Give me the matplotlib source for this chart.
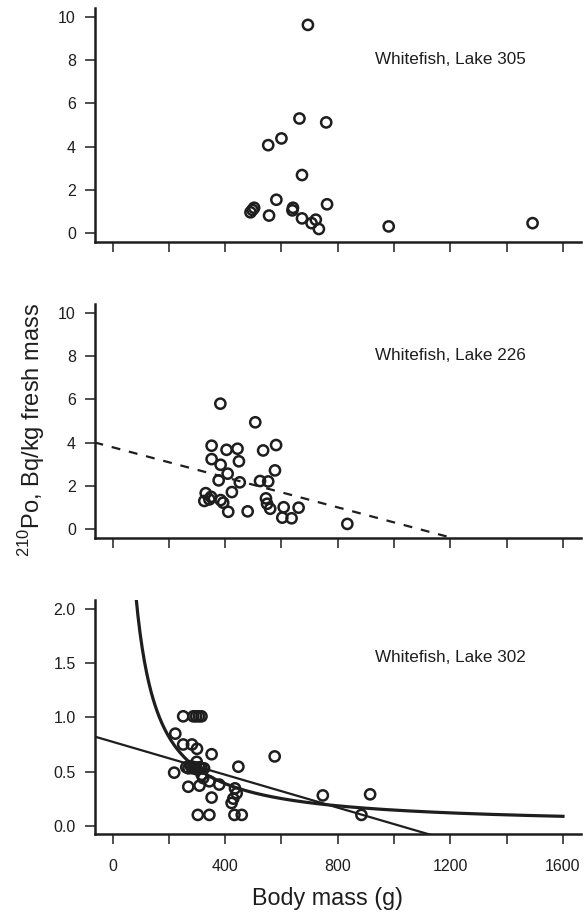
import numpy as np
import matplotlib
matplotlib.use('Agg')
import matplotlib.pyplot as plt

plt.rcParams['font.family'] = ['Liberation Sans', 'DejaVu Sans']
plt.rcParams['mathtext.fontset'] = 'custom'
plt.rcParams['mathtext.rm'] = 'Liberation Sans'

INK = '#1e1e1e'

# Lake 305 (top panel)
mass_305 = [694, 664, 759, 553, 600, 673, 582, 762, 490, 497, 503, 556, 641, 639,
            673, 707, 722, 733, 981, 1492]
po_305 = [9.62, 5.30, 5.12, 4.07, 4.38, 2.69, 1.55, 1.34, 0.97, 1.08, 1.18, 0.82, 1.18, 1.06,
          0.69, 0.47, 0.63, 0.20, 0.32, 0.47]

# Lake 226 (middle panel)
mass_226 = [383, 507, 352, 405, 444, 535, 581, 352, 384, 449, 577, 409, 377, 452, 524, 553,
            424, 331, 326, 344, 350, 384, 393, 545, 549, 560, 411, 480, 608, 661, 603, 636, 834]
po_226 = [5.80, 4.94, 3.86, 3.67, 3.72, 3.64, 3.89, 3.24, 2.98, 3.14, 2.72, 2.57, 2.26, 2.17,
          2.23, 2.21, 1.72, 1.67, 1.31, 1.38, 1.50, 1.35, 1.23, 1.43, 1.18, 0.95, 0.81, 0.83,
          1.02, 1.00, 0.54, 0.51, 0.25]

# Lake 302 (bottom panel)
mass_302 = [251, 287, 297, 307, 316, 223, 251, 282, 300, 352, 576, 447, 219, 299,
            262, 270, 278, 285, 292, 300, 308, 316, 325,
            317, 322, 344, 379, 269, 309, 352, 435, 441, 429, 423,
            303, 344, 433, 459, 747, 915, 884]
po_302 = [1.01, 1.01, 1.01, 1.01, 1.01, 0.85, 0.75, 0.75, 0.71, 0.66, 0.64, 0.545, 0.49, 0.59,
          0.54, 0.53, 0.55, 0.53, 0.54, 0.52, 0.54, 0.53, 0.53,
          0.47, 0.44, 0.41, 0.38, 0.36, 0.37, 0.26, 0.345, 0.30, 0.25, 0.21,
          0.10, 0.10, 0.10, 0.10, 0.28, 0.29, 0.10]

# fitted lines
lin_226 = (3.79, -0.00347)       # intercept, slope (dashed)
lin_302 = (0.775, -0.00076)      # intercept, slope
pow_302 = (251.0, -1.08)         # a * x**b

labels = ['Whitefish, Lake 305', 'Whitefish, Lake 226', 'Whitefish, Lake 302']

W, H = 585, 915
fig = plt.figure(figsize=(W / 100, H / 100), dpi=100)

def px_axes(top, bottom):
    return fig.add_axes([94.5 / W, 1 - bottom / H, (581 - 94.5) / W, (bottom - top) / H])

ax1 = px_axes(8, 242)
ax2 = px_axes(304, 538)
ax3 = px_axes(600.4, 834.4)

xlim = (-64, 1664)
for ax in (ax1, ax2, ax3):
    ax.set_xlim(*xlim)
    for s in ('top', 'right'):
        ax.spines[s].set_visible(False)
    for s in ('left', 'bottom'):
        ax.spines[s].set_linewidth(1.8)
        ax.spines[s].set_color(INK)
    ax.set_xticks(np.arange(0, 1601, 400))
    ax.set_xticks(np.arange(200, 1601, 400), minor=True)
    ax.tick_params(axis='both', which='both', direction='out', length=7.5, width=1.1,
                   color=INK, labelcolor=INK, labelsize=11.5)
    ax.tick_params(axis='y', pad=6)
    ax.tick_params(axis='x', pad=10)

for ax in (ax1, ax2):
    ax.set_ylim(-0.4, 10.4)
    ax.set_yticks(np.arange(0, 11, 2))
    ax.tick_params(axis='x', labelbottom=False)

ax3.set_ylim(-0.08, 2.08)
ax3.set_yticks(np.arange(0, 2.01, 0.5))
ax3.set_yticklabels([f'{v:.1f}' for v in np.arange(0, 2.01, 0.5)])

mk = dict(s=54, facecolors='none', edgecolors=INK, linewidths=1.8, zorder=3)
ax1.scatter(mass_305, po_305, **mk)
ax2.scatter(mass_226, po_226, **mk)
ax3.scatter(mass_302, po_302, **mk)

xx = np.array(xlim)
ax2.plot(xx, lin_226[0] + lin_226[1] * xx, color=INK, lw=1.6, linestyle=(0, (4, 4)))
ax3.plot(xx, lin_302[0] + lin_302[1] * xx, color=INK, lw=1.6)
xc = np.linspace(75, 1600, 400)
ax3.plot(xc, pow_302[0] * xc ** pow_302[1], color=INK, lw=2.3)

ax1.text(1200, 8.0, labels[0], ha='center', va='center', fontsize=12.3, color=INK)
ax2.text(1200, 8.0, labels[1], ha='center', va='center', fontsize=12.3, color=INK)
ax3.text(1200, 1.55, labels[2], ha='center', va='center', fontsize=12.3, color=INK)

fig.text(328 / W, 1 - 899 / H, 'Body mass (g)', ha='center', va='center', fontsize=16.8, color=INK)
fig.text(32 / W, 1 - 430 / H, r'$^{210}$Po, Bq/kg fresh mass', rotation=90,
         ha='center', va='center', fontsize=17, color=INK)

fig.savefig('out.png', dpi=100)
